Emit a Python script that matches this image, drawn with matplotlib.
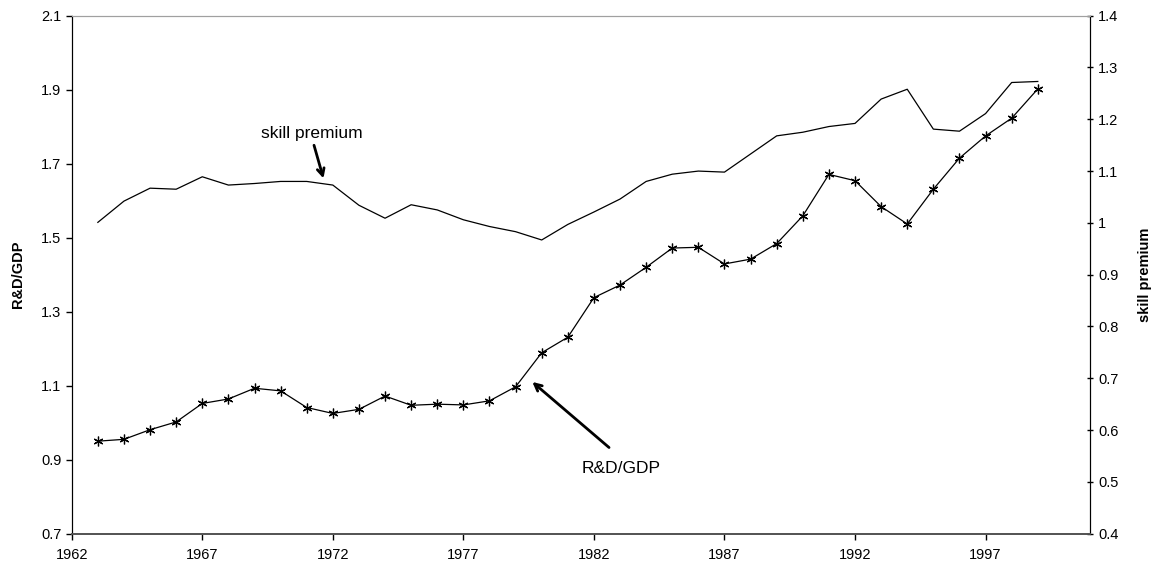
import matplotlib
matplotlib.use('Agg')
import matplotlib.pyplot as plt
from matplotlib.ticker import FuncFormatter

plt.rcParams['font.family'] = ['Liberation Sans', 'DejaVu Sans']

# Data
years = list(range(1963, 2000))
rd_gdp = [0.950, 0.955, 0.981, 1.002, 1.052, 1.064, 1.093, 1.086, 1.041, 1.025,
          1.036, 1.072, 1.047, 1.050, 1.048, 1.059, 1.097, 1.189, 1.231, 1.338,
          1.372, 1.420, 1.472, 1.474, 1.429, 1.442, 1.484, 1.559, 1.671, 1.654,
          1.584, 1.537, 1.631, 1.715, 1.775, 1.823, 1.902]
skill_premium = [1.001, 1.042, 1.067, 1.065, 1.089, 1.073, 1.076, 1.080, 1.080, 1.073,
                 1.034, 1.009, 1.035, 1.025, 1.006, 0.993, 0.983, 0.967, 0.997, 1.021,
                 1.046, 1.080, 1.094, 1.100, 1.098, 1.133, 1.168, 1.175, 1.186, 1.192,
                 1.239, 1.258, 1.181, 1.177, 1.211, 1.271, 1.273]
x_ticks = [1962, 1967, 1972, 1977, 1982, 1987, 1992, 1997]
left_ticks = [0.7, 0.9, 1.1, 1.3, 1.5, 1.7, 1.9, 2.1]
right_ticks = [0.4, 0.5, 0.6, 0.7, 0.8, 0.9, 1.0, 1.1, 1.2, 1.3, 1.4]

fig = plt.figure(figsize=(11.57, 5.62), dpi=100)
ax = fig.add_axes([0.062, 0.0504, 0.8801, 0.9217])
ax2 = ax.twinx()

ax.plot(years, rd_gdp, color='black', lw=0.9, marker=(6, 2, 0), ms=7, mew=0.9)
ax2.plot(years, skill_premium, color='black', lw=0.9)

ax.set_xlim(1962, 2001)
ax.set_ylim(0.7, 2.1)
ax2.set_ylim(0.4, 1.4)
ax.set_xticks(x_ticks)
ax.set_yticks(left_ticks)
ax2.set_yticks(right_ticks)
ax.yaxis.set_major_formatter(FuncFormatter(lambda v, p: '%.1f' % v))
ax2.yaxis.set_major_formatter(FuncFormatter(lambda v, p: '%g' % round(v, 1)))

ax.tick_params(axis='both', labelsize=10.5, length=4, width=1, direction='out')
ax.tick_params(axis='x', pad=6)
ax2.tick_params(axis='y', labelsize=10.5, length=4, width=1, direction='inout', pad=4)

for a in (ax, ax2):
    a.spines['top'].set_color('#a0a0a0')
    a.spines['bottom'].set_color('#555555')
    a.spines['bottom'].set_linewidth(1.3)
    a.spines['left'].set_color('black')
    a.spines['right'].set_color('black')

ax.set_ylabel('R&D/GDP', fontsize=10.5, fontweight='bold')
ax.yaxis.set_label_coords(-0.046, 0.5)
ax2.set_ylabel('skill premium', fontsize=10.5, fontweight='bold')
ax2.yaxis.set_label_coords(1.047, 0.5)

# annotations
ax.text(1971.2, 1.762, 'skill premium', fontsize=12.5, ha='center', va='bottom')
ax.annotate('', xy=(1971.67, 1.653), xytext=(1971.25, 1.757),
            arrowprops=dict(arrowstyle='->,head_length=0.5,head_width=0.25', lw=2, color='black'))
ax.text(1983.06, 0.875, 'R&D/GDP', fontsize=12.5, ha='center', va='center')
ax.annotate('', xy=(1979.56, 1.115), xytext=(1982.66, 0.928),
            arrowprops=dict(arrowstyle='->,head_length=0.5,head_width=0.25', lw=2, color='black'))

fig.savefig('out.png', dpi=100)
